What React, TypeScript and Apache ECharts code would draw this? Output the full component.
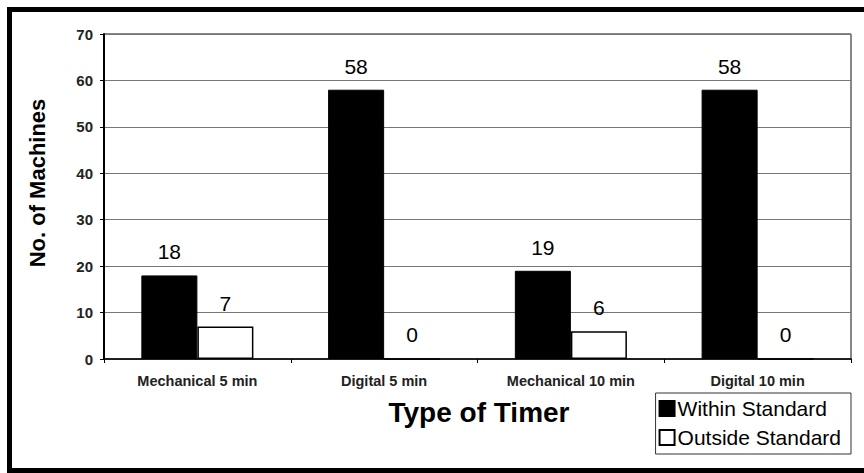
import React, { useEffect, useRef } from "react";
import * as echarts from "echarts";

const categories = ["Mechanical 5 min", "Digital 5 min", "Mechanical 10 min", "Digital 10 min"];
const withinStandard = [18, 58, 19, 58];
const outsideStandard = [7, 0, 6, 0];
const seriesNames = ["Within Standard", "Outside Standard"];
const yAxisTitle = "No. of Machines";
const xAxisTitle = "Type of Timer";

const FONT = "'Liberation Sans', Arial, sans-serif";

export default function App() {
  const ref = useRef<HTMLDivElement>(null);
  useEffect(() => {
    if (!ref.current) return;
    const chart = echarts.init(ref.current, null, { renderer: "svg" });
    chart.setOption({
      animation: false,
      backgroundColor: "#fff",
      textStyle: { fontFamily: FONT, color: "#000" },
      grid: {
        left: 104,
        top: 34,
        right: 13,
        bottom: 114,
        show: true,
        borderColor: "#111",
        borderWidth: 1,
      },
      graphic: [
        {
          type: "rect",
          shape: { x: 9.5, y: 9.5, width: 870, height: 461 },
          style: { fill: "none", stroke: "#000", lineWidth: 5 },
          silent: true,
        },
        {
          type: "text",
          x: 37,
          y: 183,
          rotation: Math.PI / 2,
          style: {
            text: yAxisTitle,
            fontFamily: FONT,
            fontSize: 22,
            fontWeight: "bold",
            fill: "#000",
            align: "center",
            verticalAlign: "middle",
          },
        },
        {
          type: "text",
          x: 479,
          y: 412,
          style: {
            text: xAxisTitle,
            fontFamily: FONT,
            fontSize: 28,
            fontWeight: "bold",
            fill: "#000",
            align: "center",
            verticalAlign: "middle",
          },
        },
      ],
      legend: {
        orient: "vertical",
        right: 13,
        top: 393,
        padding: [5, 10, 6, 3],
        itemGap: 8,
        itemWidth: 15,
        itemHeight: 15,
        borderColor: "#333",
        borderWidth: 1,
        backgroundColor: "#fff",
        icon: "rect",
        textStyle: { fontFamily: FONT, fontSize: 21, color: "#000", padding: [0, 0, 0, -2] },
        data: seriesNames,
      },
      xAxis: {
        type: "category",
        data: categories,
        axisLine: { lineStyle: { color: "#000", width: 1.5 } },
        axisTick: { show: true, length: 4, lineStyle: { color: "#000" } },
        axisLabel: { fontFamily: FONT, fontSize: 14.5, fontWeight: "bold", color: "#222", margin: 14 },
      },
      yAxis: {
        type: "value",
        min: 0,
        max: 70,
        interval: 10,
        axisLine: { show: true, lineStyle: { color: "#000", width: 2 } },
        axisTick: { show: true, length: 4, lineStyle: { color: "#000" } },
        axisLabel: { fontFamily: FONT, fontSize: 15, fontWeight: "bold", color: "#222", margin: 11 },
        splitLine: { lineStyle: { color: "#777", width: 1 } },
      },
      series: [
        {
          name: seriesNames[0],
          type: "bar",
          data: withinStandard,
          barGap: "0%",
          barCategoryGap: "40%",
          itemStyle: { color: "#000", borderColor: "#000", borderWidth: 1 },
          label: { show: true, position: "top", distance: 13, fontFamily: FONT, fontSize: 21, color: "#000" },
        },
        {
          name: seriesNames[1],
          type: "bar",
          data: outsideStandard,
          itemStyle: { color: "#fff", borderColor: "#000", borderWidth: 1.5 },
          label: { show: true, position: "top", distance: 13, fontFamily: FONT, fontSize: 21, color: "#000" },
        },
      ],
    });
    return () => chart.dispose();
  }, []);
  return (
    <div
      ref={ref}
      style={{ position: "fixed", left: 0, top: 0, width: 864, height: 473 }}
    />
  );
}
